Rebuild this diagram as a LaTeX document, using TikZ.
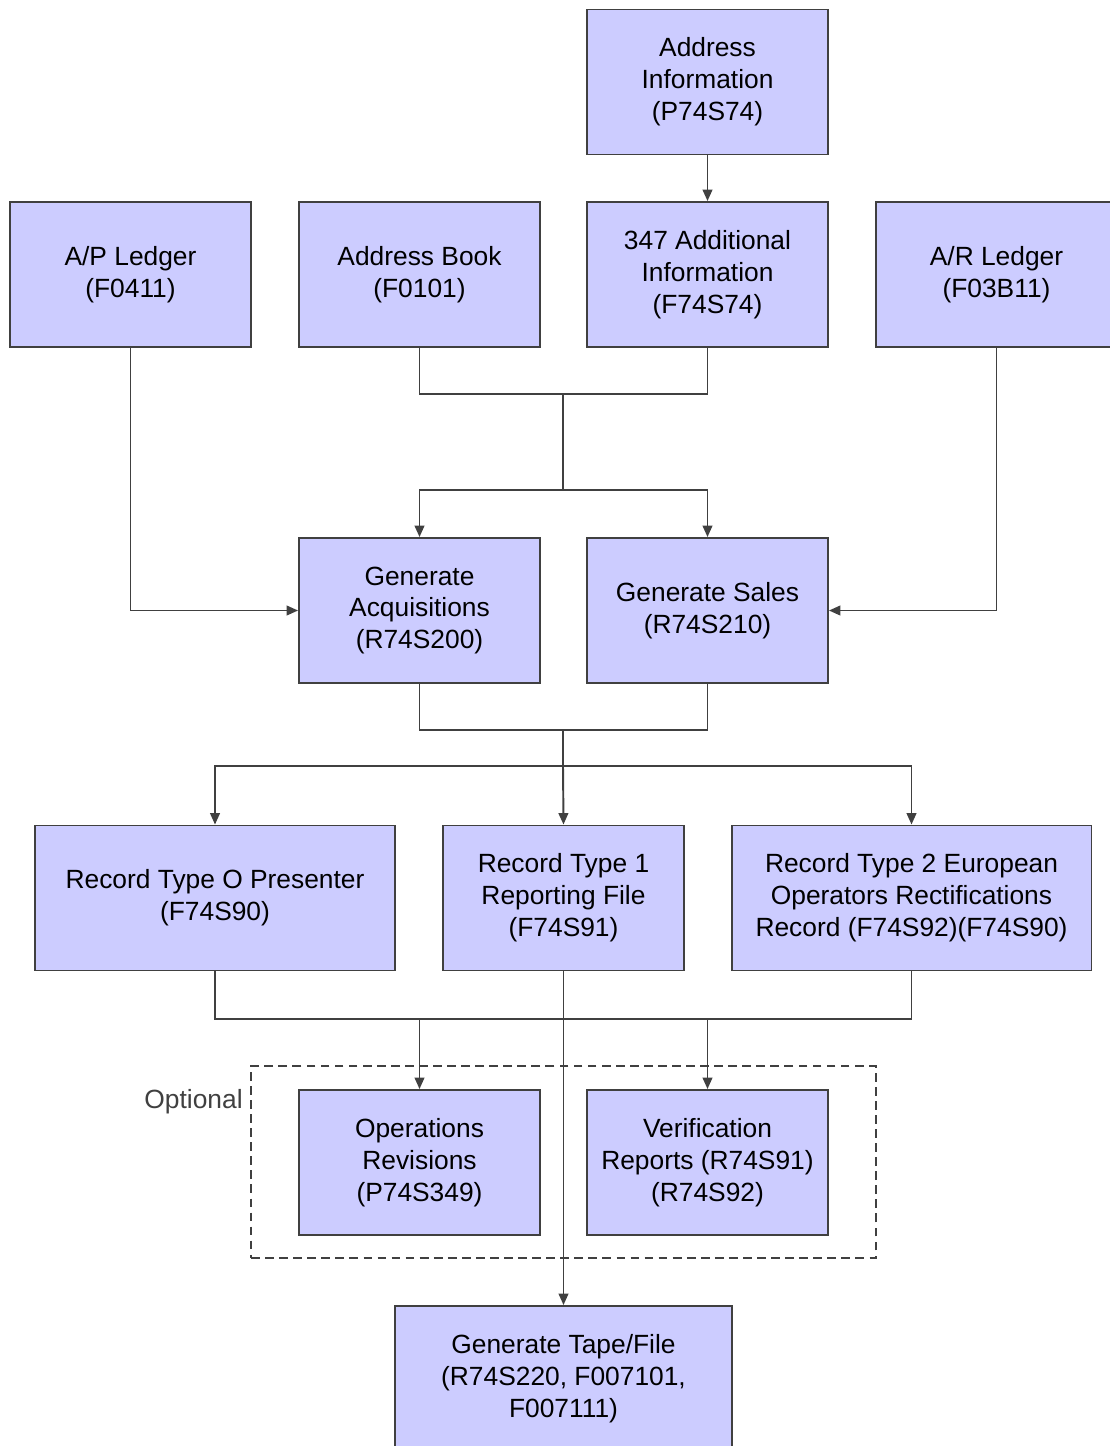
\documentclass[tikz,border=0pt]{standalone}
\usepackage{fontspec}
\setmainfont{Liberation Sans}
\usepackage{tikz}
\usetikzlibrary{arrows.meta}
\usetikzlibrary{positioning}

\definecolor{boxfill}{RGB}{204,204,255}
\definecolor{linegray}{RGB}{64,64,64}

\tikzset{
  flowbox/.style={draw=linegray, line width=1.1pt, fill=boxfill, align=center,
    minimum width=4.82cm, minimum height=2.9cm, inner sep=2pt,
    font=\fontsize{15}{18.2}\selectfont},
  widebox/.style={flowbox, minimum width=7.2cm},
  flowline/.style={draw=linegray, line width=1.1pt},
  optframe/.style={draw=linegray, line width=1.1pt, dashed, dash pattern=on 5pt off 3pt,
    minimum width=12.5cm, minimum height=3.84cm, inner sep=0pt},
}

\begin{document}
\begin{tikzpicture}[x=0.02cm, y=-0.02cm, >={Triangle[length=6.5pt,width=5.5pt]}]
\useasboundingbox (0,0) rectangle (1109,1446);

% sources
\node[flowbox] (addrinfo) at (707.5,82) {Address\\Information\\(P74S74)};
\node[flowbox] (apledger) at (130.5,274.5) {A/P Ledger\\(F0411)};
\node[flowbox] (addrbook) at (419.5,274.5) {Address Book\\(F0101)};
\node[flowbox] (addinfo) at (707.5,274.5) {347 Additional\\Information\\(F74S74)};
\node[flowbox] (arledger) at (996.5,274.5) {A/R Ledger\\(F03B11)};

% generation programs
\node[flowbox] (genacq) at (419.5,610.5) {Generate\\Acquisitions\\(R74S200)};
\node[flowbox] (gensales) at (707.5,610.5) {Generate Sales\\(R74S210)};

% record types
\node[widebox] (rectype0) at (215,898) {Record Type O Presenter\\(F74S90)};
\node[flowbox] (rectype1) at (563.5,898) {Record Type 1\\Reporting File\\(F74S91)};
\node[widebox] (rectype2) at (911.5,898) {Record Type 2 European\\Operators Rectifications\\Record (F74S92)(F74S90)};

% optional
\node[optframe] (optional) at (563.5,1162) {};
\node[anchor=east, text=linegray, inner sep=0pt, font=\fontsize{15}{18}\selectfont] (optlabel) at (243,1102) {Optional};
\node[flowbox] (opsrev) at (419.5,1162.5) {Operations\\Revisions\\(P74S349)};
\node[flowbox] (verif) at (707.5,1162.5) {Verification\\Reports (R74S91)\\(R74S92)};

% output
\node[flowbox, minimum width=6.74cm] (tape) at (563.5,1378.5) {Generate Tape/File\\(R74S220, F007101,\\F007111)};

% junctions
\coordinate (j1) at (563,394);
\coordinate (j2) at (563,490);
\coordinate (j3) at (563,730);
\coordinate (j4) at (563,766);
\coordinate (j5) at (563,1019);
\coordinate (ja) at (419.5,1019);
\coordinate (jb) at (707.5,1019);

% connectors
\draw[flowline, ->] (addrinfo) -- (addinfo);
\draw[flowline] (addrbook.south) |- (j1) -| (addinfo.south);
\draw[flowline] (j1) -- (j2);
\draw[flowline, ->] (j2) -| (genacq.north);
\draw[flowline, ->] (j2) -| (gensales.north);
\draw[flowline, ->] (apledger.south) |- (genacq.west);
\draw[flowline, ->] (arledger.south) |- (gensales.east);

\draw[flowline] (genacq.south) |- (j3) -| (gensales.south);
\draw[flowline] (j3) -- (j4);
\draw[flowline, ->] (j4) -| (rectype0.north);
\draw[flowline, ->] (j4) -- (rectype1.north);
\draw[flowline, ->] (j4) -| (rectype2.north);

\draw[flowline] (rectype0.south) |- (j5) -| (rectype2.south);
\draw[flowline, ->] (ja) -- (opsrev.north);
\draw[flowline, ->] (jb) -- (verif.north);
\draw[flowline, ->] (rectype1.south) -- (tape.north);
\end{tikzpicture}
\end{document}
